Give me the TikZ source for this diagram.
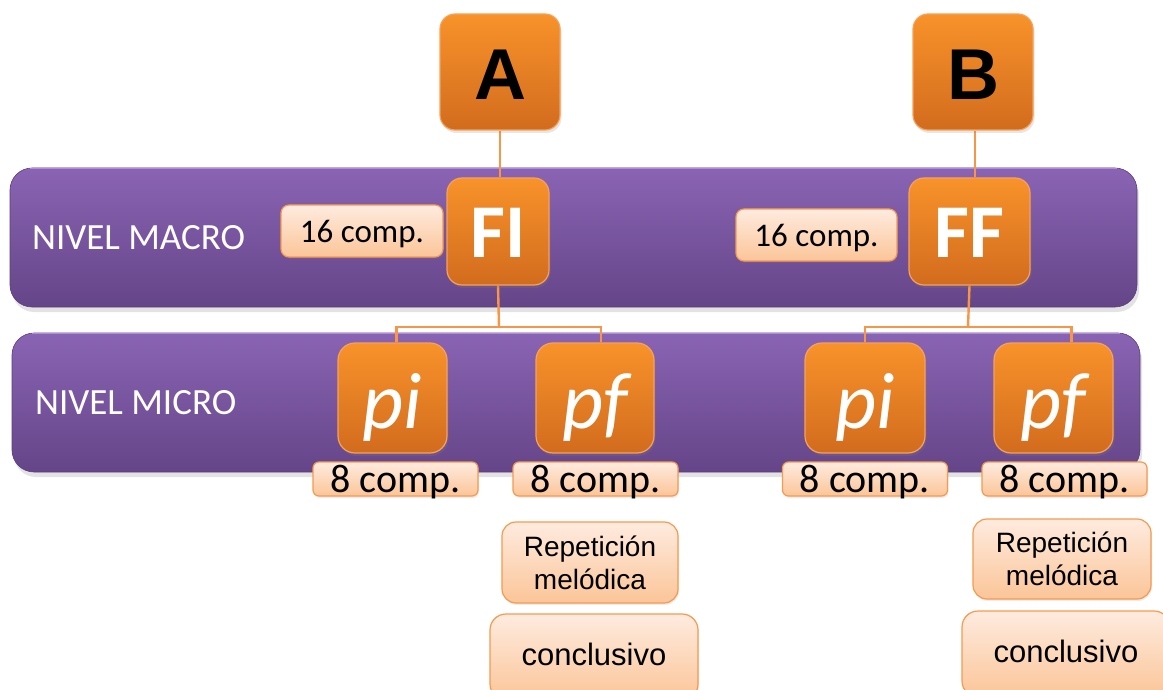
\documentclass[tikz,border=0pt]{standalone}
\usepackage{fontspec}
\setmainfont{Carlito}
\newfontfamily\arialfont{Liberation Sans}
\usetikzlibrary{shadows}
\definecolor{bandtop}{HTML}{8A64B4}
\definecolor{bandbot}{HTML}{654588}
\definecolor{bandrim}{HTML}{B48ADC}
\definecolor{ortop}{HTML}{F8922A}
\definecolor{orbot}{HTML}{D26C1E}
\definecolor{oredge}{HTML}{F6A25A}
\definecolor{lbltop}{HTML}{FEEBDF}
\definecolor{lblbot}{HTML}{FBC598}
\definecolor{lbledge}{HTML}{F59A50}
\definecolor{connc}{HTML}{F79646}
\newcommand\setfs[1]{\fontsize{#1}{#1}\selectfont}
\pgfdeclarelayer{bands}
\pgfdeclarelayer{lines}
\pgfsetlayers{bands,lines,main}
\tikzset{
  band/.style={rounded corners=22pt, top color=bandtop, bottom color=bandbot,
    draw=bandbot!90!black, line width=0.6pt, inner sep=0pt,
    drop shadow={opacity=0.22, shadow xshift=2pt, shadow yshift=-5pt}},
  bandtext/.style={anchor=west, text=white, font=\setfs{37}, inner sep=0pt},
  obox/.style={rounded corners=15pt, top color=ortop, bottom color=orbot,
    draw=oredge, line width=1.2pt, inner sep=0pt,
    drop shadow={opacity=0.2, shadow xshift=1.5pt, shadow yshift=-3pt}},
  letterbox/.style={obox, minimum width=120pt, minimum height=116pt,
    text height=56pt, text depth=0pt, font=\arialfont\bfseries\setfs{72}},
  formbox/.style={obox, minimum height=107pt, text=white,
    text height=53pt, text depth=0pt, font=\bfseries\setfs{76}},
  phrasebox/.style={obox, minimum height=110pt, text=white, rounded corners=17pt,
    text height=60pt, text depth=0pt, font=\itshape\setfs{80}},
  lbl/.style={rounded corners=8pt, top color=lbltop, bottom color=lblbot,
    draw=lbledge, line width=1.2pt, inner sep=0pt,
    drop shadow={opacity=0.15, shadow xshift=1pt, shadow yshift=-2pt}},
  compbig/.style={lbl, minimum height=52pt, text height=24pt, text depth=0pt,
    font=\setfs{33}},
  compsmall/.style={lbl, rounded corners=6pt, minimum width=165pt, minimum height=34pt,
    text height=26pt, text depth=0pt, font=\setfs{40}},
  notebox/.style={lbl, rounded corners=14pt, align=center,
    font=\arialfont\fontsize{28}{33}\selectfont},
  endbox/.style={lbl, rounded corners=16pt, minimum width=208pt, minimum height=86pt,
    text height=16pt, text depth=0pt, font=\arialfont\setfs{31}},
  conn/.style={draw=connc, line width=2.4pt}
}
\begin{document}
\begin{tikzpicture}[x=1pt,y=-1pt]
\useasboundingbox (0,0) rectangle (1163,690);
\clip (0,0) rectangle (1163,690);

% the two levels
\begin{pgfonlayer}{bands}
\node[band, minimum width=1127pt, minimum height=139pt] (macro) at (573.5,237.5) {};
\node[band, minimum width=1128pt, minimum height=139pt] (micro) at (576,402.5) {};
% light rim along the top edge of each level
\draw[bandrim, line width=1.5pt] ([xshift=20pt,yshift=-1pt]macro.north west) -- ([xshift=-20pt,yshift=-1pt]macro.north east);
\draw[bandrim, line width=1.5pt] ([xshift=20pt,yshift=-1pt]micro.north west) -- ([xshift=-20pt,yshift=-1pt]micro.north east);
\end{pgfonlayer}
\node[bandtext] (macrolbl) at (32,238) {NIVEL MACRO};
\node[bandtext] (microlbl) at (35,403) {NIVEL MICRO};

% sections and their phrases
\node[letterbox] (A) at (500,72) {A};
\node[letterbox] (B) at (973,72) {B};
\node[formbox, minimum width=102pt] (FI) at (498,231.5) {FI};
\node[formbox, minimum width=121pt] (FF) at (969.5,231.5) {FF};

\node[phrasebox, minimum width=109pt] (pi1) at (392.5,398) {pi};
\node[phrasebox, minimum width=118pt] (pf1) at (595,398) {pf};
\node[phrasebox, minimum width=120pt] (pi2) at (865,398) {pi};
\node[phrasebox, minimum width=119pt] (pf2) at (1053.5,398) {pf};

\coordinate (j1) at (499,327);
\coordinate (j2) at (968,327);

% connectors, kept under the boxes
\begin{pgfonlayer}{lines}
\draw[conn] (A.south) -- (A.south |- FI.north);
\draw[conn] ([xshift=2pt]B.south) -- ([xshift=2pt]B.south |- FF.north);
\draw[conn] (FI.south) -- (j1);
\draw[conn] (j1) -| ([xshift=4pt]pi1.north);
\draw[conn] (j1) -| ([xshift=6pt]pf1.north);
\draw[conn] (FF.south) -- (j2);
\draw[conn] (j2) -| (pi2.north);
\draw[conn] (j2) -| ([xshift=18pt]pf2.north);
\end{pgfonlayer}

% lengths and descriptions
\node[compbig, minimum width=162pt] (c16a) at (362,231) {16 comp.};
\node[compbig, minimum width=161pt] (c16b) at (816.5,235) {16 comp.};
\node[compsmall] (c8a) at (395.5,479) {8 comp.};
\node[compsmall] (c8b) at (595.5,479) {8 comp.};
\node[compsmall] (c8c) at (865,479) {8 comp.};
\node[compsmall] (c8d) at (1064.5,479) {8 comp.};

\node[notebox, minimum width=176pt, minimum height=81pt] (rep1) at (590,562.5) {Repetición\\melódica};
\node[notebox, minimum width=178pt, minimum height=80pt] (rep2) at (1062,559) {Repetición\\melódica};
\node[endbox] (end1) at (594,657) {conclusivo};
\node[endbox] (end2) at (1066,654) {conclusivo};
\end{tikzpicture}
\end{document}
